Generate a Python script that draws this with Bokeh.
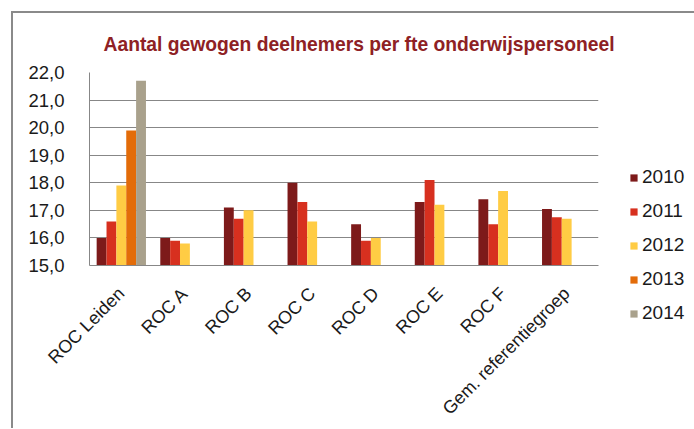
import math
from bokeh.plotting import figure
from bokeh.models import ColumnDataSource, FactorRange, FixedTicker, Legend, LegendItem, Range1d
from bokeh.transform import dodge
from bokeh.embed import file_html
from bokeh.resources import INLINE

categories = ["ROC Leiden", "ROC A", "ROC B", "ROC C", "ROC D", "ROC E", "ROC F", "Gem. referentiegroep"]
years = ["2010", "2011", "2012", "2013", "2014"]
v2010 = [16.0, 16.0, 17.1, 18.0, 16.5, 17.3, 17.4, 17.05]
v2011 = [16.6, 15.9, 16.7, 17.3, 15.9, 18.1, 16.5, 16.75]
v2012 = [17.9, 15.8, 17.0, 16.6, 16.0, 17.2, 17.7, 16.7]
v2013 = [19.9]
v2014 = [21.7]
cats_2013 = ["ROC Leiden"]
cats_2014 = ["ROC Leiden"]
y_ticks = [15, 16, 17, 18, 19, 20, 21, 22]
y_tick_labels = ["15,0", "16,0", "17,0", "18,0", "19,0", "20,0", "21,0", "22,0"]

series = [
    ("2010", categories, v2010, "#7D1A1A"),
    ("2011", categories, v2011, "#D7301F"),
    ("2012", categories, v2012, "#FFCC44"),
    ("2013", cats_2013, v2013, "#E36C09"),
    ("2014", cats_2014, v2014, "#A9A18C"),
]

p = figure(x_range=FactorRange(factors=categories, range_padding=0), y_range=Range1d(15, 22),
           frame_width=509, frame_height=193, output_backend="svg", toolbar_location=None,
           min_border_left=76, min_border_right=88, min_border_top=59, min_border_bottom=156)
p.styles = {"border-top": "2px solid #8a8a8a", "border-left": "2px solid #8a8a8a",
            "margin-left": "11px", "margin-top": "11px"}

bw = 0.155
offsets = [-2 * bw, -bw, 0, bw, 2 * bw]
items = []
for (name, cats, vals, color), off in zip(series, offsets):
    src = ColumnDataSource(dict(x=cats, top=vals))
    r = p.vbar(x=dodge("x", off, range=p.x_range), top="top", bottom=15, width=bw,
               source=src, fill_color=color, line_color=None)
    items.append(LegendItem(label=name, renderers=[r]))

legend = Legend(items=items, location=(31, -59), orientation="vertical",
                glyph_width=9, glyph_height=9, label_text_font_size="19px",
                label_text_font="Liberation Sans", label_text_color="#1a1a1a",
                spacing=12, label_height=20, padding=0, margin=0, border_line_color=None,
                background_fill_alpha=0, label_standoff=4)
p.add_layout(legend, "right")

p.title.text = "Aantal gewogen deelnemers per fte onderwijspersoneel"
p.title.text_font = "Liberation Sans"
p.title.text_font_size = "19.3px"
p.title.text_color = "#8E2124"
p.title.align = "left"
p.title.offset = 14
p.title.standoff = 35

p.outline_line_color = None
p.xgrid.grid_line_color = None
p.ygrid.grid_line_color = "#878787"
p.ygrid.grid_line_width = 1
p.yaxis.ticker = FixedTicker(ticks=y_ticks)
p.yaxis.major_label_overrides = {t: l for t, l in zip(y_ticks, y_tick_labels)}
p.yaxis.major_label_text_font = "Liberation Sans"
p.yaxis.major_label_text_font_size = "18.5px"
p.yaxis.major_label_text_color = "#1a1a1a"
p.yaxis.major_label_standoff = 19
for ax in (p.xaxis, p.yaxis):
    ax.axis_line_color = "#878787"
    ax.major_tick_line_color = None
    ax.minor_tick_line_color = None
p.xaxis.major_label_orientation = math.pi / 4
p.xaxis.major_label_text_font = "Liberation Sans"
p.xaxis.major_label_text_font_size = "18px"
p.xaxis.major_label_text_color = "#1a1a1a"
p.xaxis.major_label_standoff = 19

open("out.html", "w").write(file_html(p, INLINE))
